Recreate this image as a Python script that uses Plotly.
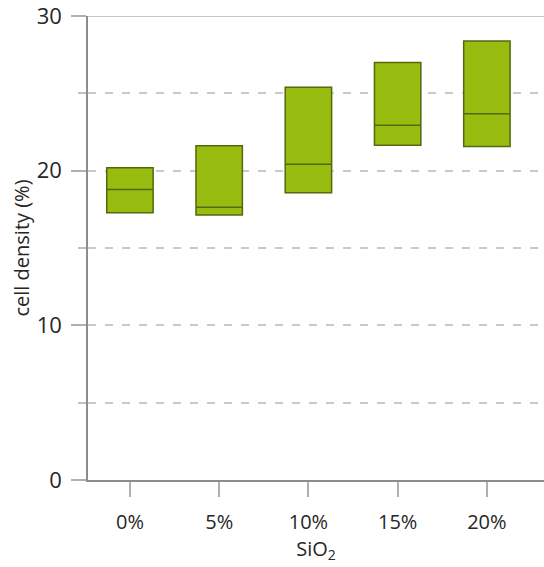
import plotly.graph_objects as go

# SiO2 content groups and cell-density box statistics (%)
categories = ["0%", "5%", "10%", "15%", "20%"]
q1 = [17.28, 17.13, 18.57, 21.65, 21.57]
median = [18.79, 17.63, 20.41, 22.93, 23.68]
q3 = [20.19, 21.61, 25.40, 27.00, 28.38]

y_ticks = [0, 10, 20, 30]

font_family = "Open Sans, Calibri, sans-serif"
axis_col = "#8c8c8c"
grid_col = "#c9c9c9"
text_col = "#262626"

fig = go.Figure()
fig.add_trace(go.Box(
    x=categories,
    q1=q1, median=median, q3=q3,
    lowerfence=q1, upperfence=q3,
    width=0.52,
    whiskerwidth=0,
    fillcolor="rgb(153,188,16)",
    line=dict(color="rgb(84,104,14)", width=1.5),
    boxpoints=False,
    showlegend=False,
    hoverinfo="skip",
))

fig.update_layout(
    width=544, height=567,
    margin=dict(l=88, r=0, t=16, b=87),
    plot_bgcolor="white", paper_bgcolor="white",
    font=dict(family=font_family, size=20, color=text_col),
    xaxis=dict(
        type="category",
        range=[-0.47, 4.64],
        showline=True, linecolor=axis_col, linewidth=1.5,
        ticks="outside", ticklen=15, tickcolor="#b0b0b0", tickwidth=1.5,
        ticklabelstandoff=8,
        showgrid=False, zeroline=False,
        title=dict(text="SiO<sub>2</sub>", standoff=6, font=dict(size=20, color=text_col)),
        tickfont=dict(size=20, color=text_col),
    ),
    yaxis=dict(
        range=[0, 30],
        tickvals=y_ticks,
        showline=True, linecolor=axis_col, linewidth=1.5,
        ticks="outside", ticklen=15, tickcolor="#b0b0b0", tickwidth=1.5,
        ticklabelstandoff=5,
        ticklabeloverflow="allow",
        showgrid=True, gridcolor=grid_col, griddash="8px,9px", gridwidth=1.5,
        zeroline=False,
        minor=dict(dtick=5, ticks="outside", ticklen=8, tickcolor="#c0c0c0",
                   showgrid=True, gridcolor=grid_col, griddash="8px,9px", gridwidth=1.5),
        title=dict(text="cell density (%)", standoff=2, font=dict(size=20, color=text_col)),
        tickfont=dict(size=22, color=text_col),
    ),
)

# solid frame line along the top of the plotting area
fig.add_shape(type="line", xref="paper", yref="y", x0=0, x1=1, y0=30, y1=30,
              line=dict(color="#b5b5b5", width=1.5))

fig.write_html("out.html")
